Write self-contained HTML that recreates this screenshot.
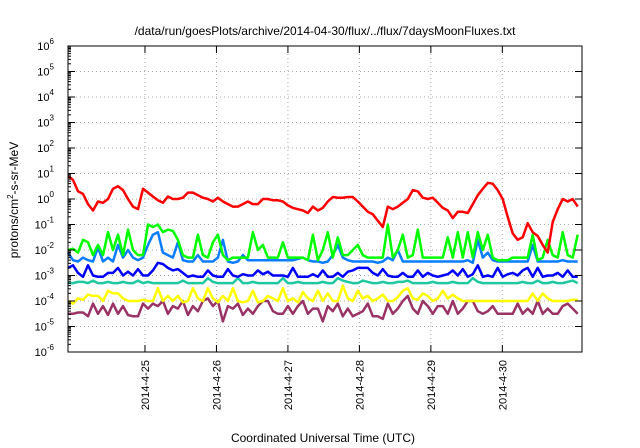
<!DOCTYPE html>
<html><head><meta charset="utf-8"><style>
html,body{margin:0;padding:0;background:#fff;}
svg{display:block;font-family:"Liberation Sans",sans-serif;}
</style></head><body>
<svg id="chart" width="640" height="448" viewBox="0 0 640 448" xmlns="http://www.w3.org/2000/svg">
<text x="325" y="35" font-size="12" text-anchor="middle">/data/run/goesPlots/archive/2014-04-30/flux/../flux/7daysMoonFluxes.txt</text>
<text x="323" y="442" font-size="12" text-anchor="middle">Coordinated Universal Time (UTC)</text>
<text transform="translate(18,200) rotate(-90)" font-size="12" text-anchor="middle">protons/cm<tspan font-size="8" dy="-5">2</tspan><tspan dy="5">-s-sr-MeV</tspan></text>
<g id="grid"></g>
<g id="series"></g>
<g id="axes"></g>
</svg>
<script>
const yTickExponents=[-6,-5,-4,-3,-2,-1,0,1,2,3,4,5,6];
const dateLabels=["2014-4-25","2014-4-26","2014-4-27","2014-4-28","2014-4-29","2014-4-30"];
const dateTickHours=[25.85,49.85,73.85,97.85,121.85,145.85];
const sampleStepHours=1.678;
const redLog=[0.9,0.75,0.3,0.2,-0.2,-0.45,-0.1,-0.15,0.0,0.4,0.5,0.35,0.0,-0.3,-0.4,0.4,0.25,0.1,-0.05,-0.15,0.1,0.0,0.0,0.05,0.25,0.25,0.15,0.05,0.0,-0.1,0.05,-0.1,-0.2,-0.3,-0.3,-0.2,-0.1,-0.2,-0.2,0.0,0.0,-0.05,-0.05,-0.1,-0.25,-0.35,-0.4,-0.45,-0.55,-0.3,-0.45,-0.35,-0.1,0.08,0.05,0.05,0.08,0.08,-0.1,-0.3,-0.5,-0.6,-0.85,-1.1,-0.3,-0.4,-0.3,-0.15,0.0,0.35,0.3,0.05,0.0,0.05,-0.15,-0.35,-0.45,-0.75,-0.5,-0.5,-0.55,-0.2,0.15,0.4,0.63,0.6,0.35,0.0,-0.7,-1.35,-1.6,-1.5,-0.95,-1.3,-1.45,-1.8,-2.1,-0.9,-0.4,0.0,-0.1,0.0,-0.3];
const greenLog=[-2.0,-1.95,-2.1,-1.6,-1.7,-2.2,-1.8,-2.2,-1.3,-2.0,-1.4,-2.2,-1.2,-2.0,-2.2,-2.2,-1.0,-1.1,-1.0,-1.3,-1.2,-1.25,-1.6,-2.2,-2.3,-2.3,-1.4,-2.2,-2.3,-1.7,-1.4,-2.2,-2.4,-2.3,-2.3,-2.3,-2.3,-1.3,-2.0,-1.8,-2.3,-2.3,-2.3,-1.7,-2.3,-2.3,-2.3,-2.3,-2.4,-1.4,-2.4,-2.0,-1.3,-2.3,-1.5,-2.2,-2.2,-2.0,-1.8,-2.2,-2.3,-2.3,-2.3,-2.3,-1.0,-2.3,-2.0,-1.4,-2.3,-2.2,-1.2,-2.3,-2.3,-2.3,-2.3,-2.3,-1.5,-2.3,-1.3,-2.3,-1.3,-2.3,-1.3,-2.0,-1.4,-2.3,-2.4,-2.4,-2.4,-2.3,-2.3,-2.3,-2.3,-1.4,-2.4,-2.3,-1.6,-2.2,-2.3,-1.3,-2.2,-2.3,-1.4];
const lightBlueLog=[-2.1,-2.4,-2.45,-2.3,-2.4,-2.45,-1.9,-2.45,-2.3,-2.45,-1.8,-2.3,-2.0,-2.3,-2.4,-2.3,-1.8,-1.4,-1.3,-2.1,-2.2,-2.3,-1.7,-2.4,-2.45,-2.45,-2.2,-2.45,-2.45,-2.45,-2.3,-1.6,-2.45,-2.5,-2.45,-2.2,-2.4,-2.4,-2.4,-2.4,-2.4,-2.4,-2.4,-2.4,-2.4,-2.4,-2.35,-2.3,-2.4,-2.45,-2.45,-2.5,-2.45,-2.2,-1.8,-2.3,-2.4,-2.45,-2.45,-2.45,-2.45,-2.45,-2.5,-2.45,-2.3,-2.4,-2.0,-2.45,-2.45,-2.45,-2.45,-2.45,-2.45,-2.45,-2.45,-2.45,-2.45,-2.45,-2.45,-2.45,-2.4,-2.5,-1.6,-2.3,-2.1,-2.4,-2.45,-2.45,-2.45,-2.45,-2.45,-2.45,-2.45,-1.8,-2.45,-2.45,-2.45,-2.45,-2.45,-2.4,-2.45,-2.45,-2.45];
const blueLog=[-2.7,-2.6,-2.9,-3.05,-2.6,-3.0,-3.05,-3.05,-2.9,-2.9,-2.7,-3.0,-2.85,-3.0,-2.75,-3.0,-3.0,-2.8,-2.5,-2.55,-2.7,-2.8,-2.75,-2.9,-3.05,-3.0,-3.05,-3.05,-2.8,-3.0,-3.05,-3.05,-2.75,-3.0,-3.05,-2.95,-3.0,-3.0,-2.8,-2.95,-2.85,-3.0,-3.0,-3.0,-3.05,-2.7,-3.05,-3.05,-3.05,-2.95,-3.05,-2.8,-3.05,-3.05,-2.9,-3.05,-2.85,-2.8,-2.7,-2.7,-2.7,-2.9,-3.0,-2.75,-3.0,-3.05,-3.05,-2.9,-3.05,-3.05,-2.8,-3.05,-2.9,-3.0,-3.05,-3.0,-2.95,-2.8,-3.0,-2.75,-3.05,-2.95,-2.6,-3.05,-3.0,-3.05,-2.7,-3.05,-2.95,-2.9,-3.0,-2.8,-2.7,-3.05,-2.7,-3.05,-3.0,-3.0,-2.9,-3.05,-2.8,-3.05,-3.05];
const tealLog=[-3.3,-3.3,-3.25,-3.25,-3.3,-3.2,-3.3,-3.3,-3.25,-3.3,-3.3,-3.25,-3.3,-3.3,-3.2,-3.3,-3.25,-3.3,-3.3,-3.3,-3.3,-3.3,-3.3,-3.2,-3.3,-3.3,-3.3,-3.3,-3.1,-3.25,-3.3,-3.3,-3.3,-3.3,-3.1,-3.3,-3.3,-3.25,-3.3,-3.3,-3.3,-3.3,-3.3,-3.1,-3.3,-3.3,-3.25,-3.3,-3.3,-3.3,-3.3,-3.25,-3.3,-3.3,-3.1,-3.2,-3.25,-3.3,-3.3,-3.2,-3.25,-3.3,-3.3,-3.25,-3.3,-3.3,-3.25,-3.25,-3.2,-3.3,-3.3,-3.3,-3.3,-3.25,-3.3,-3.3,-3.3,-3.25,-3.3,-3.3,-3.3,-3.1,-3.25,-3.3,-3.3,-3.3,-3.3,-3.3,-3.3,-3.3,-3.3,-3.25,-3.3,-3.3,-3.2,-3.3,-3.3,-3.25,-3.3,-3.3,-3.25,-3.2,-3.3];
const yellowLog=[-4.0,-4.1,-3.9,-3.95,-3.75,-3.8,-3.8,-4.0,-3.6,-3.7,-3.7,-3.9,-4.0,-4.0,-4.0,-3.95,-4.0,-4.0,-3.5,-4.0,-3.8,-4.0,-3.8,-4.05,-4.0,-3.5,-3.9,-4.0,-3.5,-3.9,-4.05,-3.8,-4.0,-3.5,-4.0,-4.05,-4.0,-3.6,-4.05,-4.0,-3.8,-3.9,-4.0,-3.5,-4.0,-3.9,-4.05,-3.65,-3.9,-4.0,-3.6,-4.0,-3.7,-4.0,-4.0,-3.4,-3.9,-4.0,-3.6,-3.9,-3.8,-4.0,-3.9,-3.75,-4.0,-4.0,-3.85,-3.6,-3.5,-3.9,-3.95,-3.7,-3.8,-4.0,-3.9,-3.6,-3.9,-3.75,-3.9,-4.0,-4.0,-4.0,-4.0,-4.0,-4.0,-4.0,-4.0,-4.0,-4.0,-4.0,-4.0,-4.0,-4.0,-3.7,-4.0,-3.7,-3.9,-4.0,-4.0,-4.0,-4.0,-3.95,-3.95];
const purpleLog=[-4.5,-4.5,-4.45,-4.45,-4.6,-4.1,-4.5,-4.2,-4.55,-4.1,-4.5,-4.2,-4.55,-4.6,-4.6,-4.1,-4.3,-4.1,-4.2,-4.0,-4.5,-4.2,-4.3,-4.0,-4.55,-4.2,-4.4,-4.0,-3.9,-4.2,-4.0,-4.8,-4.2,-4.3,-4.1,-4.55,-4.3,-4.5,-4.2,-4.0,-4.0,-4.4,-4.5,-4.5,-4.2,-4.5,-4.2,-4.0,-4.5,-4.3,-4.3,-4.8,-4.2,-4.4,-4.1,-4.6,-4.3,-4.6,-4.5,-4.4,-4.1,-4.6,-4.6,-4.7,-4.1,-4.5,-4.3,-4.0,-3.8,-4.3,-4.5,-4.0,-4.2,-4.5,-4.2,-4.2,-4.5,-4.0,-4.5,-4.3,-4.0,-4.0,-4.4,-4.5,-4.4,-4.2,-4.5,-4.5,-4.5,-4.5,-4.1,-4.5,-4.3,-4.5,-4.0,-4.5,-4.3,-4.5,-4.5,-4.2,-4.1,-4.3,-4.5];

const NS="http://www.w3.org/2000/svg";
const L=68,R=582,T=46,B=352,totalHours=172.6;
const xScale=h=>L+h/totalHours*(R-L);
const yScale=e=>B-(e+6)/12*(B-T);
const mk=(tag,attrs,parent)=>{const el=document.createElementNS(NS,tag);for(const k in attrs)el.setAttribute(k,attrs[k]);parent.appendChild(el);return el;};
const grid=document.getElementById('grid'),axes=document.getElementById('axes'),ser=document.getElementById('series');

yTickExponents.forEach(e=>{
  const y=yScale(e);
  if(e>-6&&e<6){const g=mk('line',{x1:L,x2:R,y1:y,y2:y,stroke:'#aaa','stroke-width':1,'stroke-dasharray':'1,3'},grid);
  
  }
  const t1=mk('line',{x1:L,x2:L+7,y1:y,y2:y,stroke:'#000'},axes);
  
  
  const t2=mk('line',{x1:R,x2:R-7,y1:y,y2:y,stroke:'#000'},axes);
  
  
  for(let m=2;m<10&&e<6;m++){const ym=yScale(e+Math.log10(m));
    const mt=mk('line',{x1:L,x2:L+3,y1:ym,y2:ym,stroke:'#000'},axes);
    
    }
  const tx=mk('text',{x:54,y:y+4,'font-size':11,'text-anchor':'end'},axes);
  
  
  tx.appendChild(document.createTextNode('10'));
  const sp=mk('tspan',{'font-size':8,dy:-6},tx);sp.textContent=String(e);
});
dateTickHours.forEach((h,i)=>{
  const x=xScale(h);
  const g=mk('line',{x1:x,x2:x,y1:T,y2:B,stroke:'#aaa','stroke-width':1,'stroke-dasharray':'1,3'},grid);
  
  
  const t=mk('line',{x1:x,x2:x,y1:B,y2:B-7,stroke:'#000'},axes);
  
  
  const t3=mk('line',{x1:x,x2:x,y1:T,y2:T+7,stroke:'#000'},axes);
  
  
  const lb=mk('text',{transform:`translate(${x+4},${B+8}) rotate(-90)`,'font-size':11,'text-anchor':'end'},axes);
  
  
  lb.textContent=dateLabels[i];
});
const frame=mk('rect',{x:L,y:T,width:R-L,height:B-T,fill:'none',stroke:'#000','stroke-width':1},axes);



const seriesList=[[purpleLog,'#993366','purple-series'],[yellowLog,'#ffff00','yellow-series'],[tealLog,'#20c8a0','teal-series'],[blueLog,'#0000ff','blue-series'],[lightBlueLog,'#0a7cff','light-blue-series'],[greenLog,'#00ff00','green-series'],[redLog,'#ff0000','red-series']];
seriesList.forEach(([vals,col,name])=>{
  const pts=vals.map((v,i)=>xScale(i*sampleStepHours).toFixed(1)+','+yScale(v).toFixed(1)).join(' ');
  const pl=mk('polyline',{points:pts,fill:'none',stroke:col,'stroke-width':2.5,'stroke-linejoin':'round'},ser);
  
  
});
</script>
</body></html>
